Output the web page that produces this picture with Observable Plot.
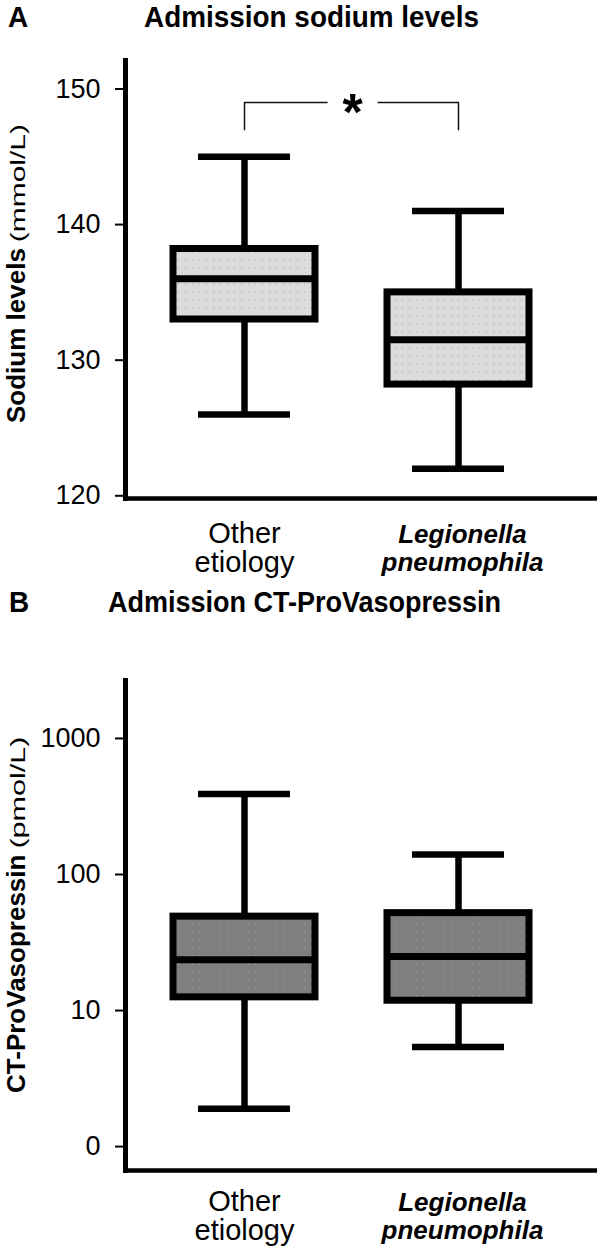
<!DOCTYPE html>
<html><head><meta charset="utf-8">
<script src="https://cdn.jsdelivr.net/npm/d3@7"></script>
<script src="https://cdn.jsdelivr.net/npm/@observablehq/plot@0.6"></script>
<style>
body{margin:0;background:#fff;font-family:"Liberation Sans",Arial,Helvetica,sans-serif;}
#wrap{position:relative;width:600px;height:1250px;overflow:hidden;}
.ttl{position:absolute;font-weight:bold;font-size:30px;line-height:30px;color:#000;white-space:nowrap;transform:scaleX(0.93);transform-origin:left top;}
#wrap svg{position:absolute;left:0;}
</style></head><body><div id="wrap">
<div class="ttl" style="left:8px;top:2px;">A</div>
<div class="ttl" style="left:144px;top:2px;">Admission sodium levels</div>
<div class="ttl" style="left:9px;top:587px;">B</div>
<div class="ttl" style="left:108px;top:587px;transform:scaleX(0.9);">Admission CT-ProVasopressin</div>
</div>
<script>
const FONT = '"Liberation Sans", Arial, Helvetica, sans-serif';
// categories and tick labels
const categories = ["Other etiology", "Legionella pneumophila"];
const categoryLines = [["Other", "etiology"], ["Legionella", "pneumophila"]];
const categoryItalic = [false, true];

// Panel A: admission sodium (mmol/L) – box plot statistics
const sodiumMin = [126, 122];
const sodiumQ1 = [133, 128.2];
const sodiumMedian = [136, 131.5];
const sodiumQ3 = [138.2, 135];
const sodiumMax = [145, 141];
const sodiumTicks = [120, 130, 140, 150];
const sodiumDomain = [119.8, 152.1];

// significance bracket (panel A)
const sigPair = ["Other etiology", "Legionella pneumophila"];
const sigLevels = [147, 149];
const sigLabel = "*";

// Panel B: admission CT-ProVasopressin (pmol/L) – box plot statistics
const avpMin = [1.9, 5.4];
const avpQ1 = [12.5, 11.8];
const avpMedian = [23.6, 25];
const avpQ3 = [49, 52];
const avpMax = [390, 140];
const avpTicks = [1, 10, 100, 1000];
const avpTickLabels = ["0", "10", "100", "1000"];
const avpDomain = [0.667, 2667];

function rowsOf(mn, q1, md, q3, mx) {
  return categories.map((c, i) => ({cat: c, min: mn[i], q1: q1[i], med: md[i], q3: q3[i], max: mx[i],
    label: categoryLines[i].join("\n"), italic: categoryItalic[i]}));
}

function panel({rows, y, ticks, tickFormat, fill, height, marginTop, marginBottom, labelDy, extra}) {
  return Plot.plot({
    width: 600, height, marginLeft: 125, marginRight: 3, marginTop, marginBottom,
    style: {fontFamily: FONT, color: "#000", background: "transparent", overflow: "visible"},
    x: {domain: categories, range: [137.5, 565.5], paddingInner: 0.336, paddingOuter: 0.168, axis: null},
    y: {...y, axis: null},
    marks: [
      Plot.axisY({ticks, tickFormat, tickSize: 10, tickPadding: 15, fontSize: 27, strokeWidth: 2, label: null}),
      Plot.frame({anchor: "left", strokeWidth: 5}),
      Plot.ruleY([y.domain[0]], {strokeWidth: 4.5}),
      Plot.ruleX(rows, {x: "cat", y1: "q3", y2: "max", strokeWidth: 6.5}),
      Plot.ruleX(rows, {x: "cat", y1: "min", y2: "q1", strokeWidth: 6.5}),
      Plot.barY(rows, {x: "cat", y1: "q1", y2: "q3", fill, stroke: "#000", strokeWidth: 7}),
      Plot.tickY(rows, {x: "cat", y: "med", strokeWidth: 7}),
      Plot.tickY(rows, {x: "cat", y: "max", strokeWidth: 6.5, insetLeft: 25, insetRight: 25}),
      Plot.tickY(rows, {x: "cat", y: "min", strokeWidth: 6.5, insetLeft: 25, insetRight: 25}),
      Plot.text(rows.filter(d => !d.italic), {x: "cat", text: "label", frameAnchor: "bottom", lineAnchor: "top",
        dy: labelDy, fontSize: 29, lineHeight: 1.0}),
      Plot.text(rows.filter(d => d.italic), {x: "cat", text: "label", frameAnchor: "bottom", lineAnchor: "top",
        dy: labelDy, dx: 4, fontSize: 26, lineHeight: 1.1, fontStyle: "italic", fontWeight: "bold"}),
      ...(extra || [])
    ]
  });
}

function addPattern(svg, id, base, dot) {
  const defs = d3.select(svg).insert("defs", ":first-child");
  const p = defs.append("pattern").attr("id", id).attr("patternUnits", "userSpaceOnUse")
    .attr("width", 7).attr("height", 8);
  p.append("rect").attr("width", 7).attr("height", 8).attr("fill", base);
  p.append("circle").attr("cx", 3.5).attr("cy", 4).attr("r", 0.8).attr("fill", dot);
}

function addYLabel(svg, x, yStart, bold, unit, unitLen) {
  const t = d3.select(svg).append("text")
    .attr("transform", `translate(${x},${yStart}) rotate(-90)`)
    .attr("text-anchor", "start").attr("fill", "#000")
    .style("font-family", FONT);
  t.append("tspan").attr("font-weight", "bold").attr("font-size", 26).text(bold);
  t.append("tspan").attr("font-size", 20).attr("dx", 6)
    .attr("textLength", unitLen).attr("lengthAdjust", "spacingAndGlyphs").text(unit);
}

const wrap = document.getElementById("wrap");

// Panel A
const rowsA = rowsOf(sodiumMin, sodiumQ1, sodiumMedian, sodiumQ3, sodiumMax);
const bracket = [
  {x: sigPair[0], y: sigLevels[0]}, {x: sigPair[0], y: sigLevels[1]},
  {x: sigPair[1], y: sigLevels[1]}, {x: sigPair[1], y: sigLevels[0]}
];
const svgA = panel({
  rows: rowsA, y: {domain: sodiumDomain}, ticks: sodiumTicks, tickFormat: d => String(d),
  fill: "url(#dotsA)", height: 550, marginTop: 20, marginBottom: 92, labelDy: 24,
  extra: [
    Plot.line(bracket, {x: "x", y: "y", strokeWidth: 1.5, stroke: "#111"}),
    Plot.text([{x: sigPair[0], y: sigLevels[1], t: sigLabel}], {x: "x", y: "y", text: "t", dx: 108, dy: 27,
      lineAnchor: "bottom", fontSize: 52, fontWeight: "bold", stroke: "white", strokeWidth: 30, fill: "#000"})
  ]
});
svgA.style.top = "40px";
addPattern(svgA, "dotsA", "#dcdcdc", "#b4b4b4");
addYLabel(svgA, 25, 383, "Sodium levels", "(mmol/L)", 118);
wrap.appendChild(svgA);

// Panel B
const rowsB = rowsOf(avpMin, avpQ1, avpMedian, avpQ3, avpMax);
const svgB = panel({
  rows: rowsB, y: {type: "log", domain: avpDomain}, ticks: avpTicks,
  tickFormat: d => avpTickLabels[avpTicks.indexOf(d)],
  fill: "url(#dotsB)", height: 610, marginTop: 40, marginBottom: 80, labelDy: 20
});
svgB.style.top = "640px";
addPattern(svgB, "dotsB", "#7f7f7f", "#999999");
addYLabel(svgB, 25, 453, "CT-ProVasopressin", "(pmol/L)", 112);
wrap.appendChild(svgB);
</script>
</body></html>
